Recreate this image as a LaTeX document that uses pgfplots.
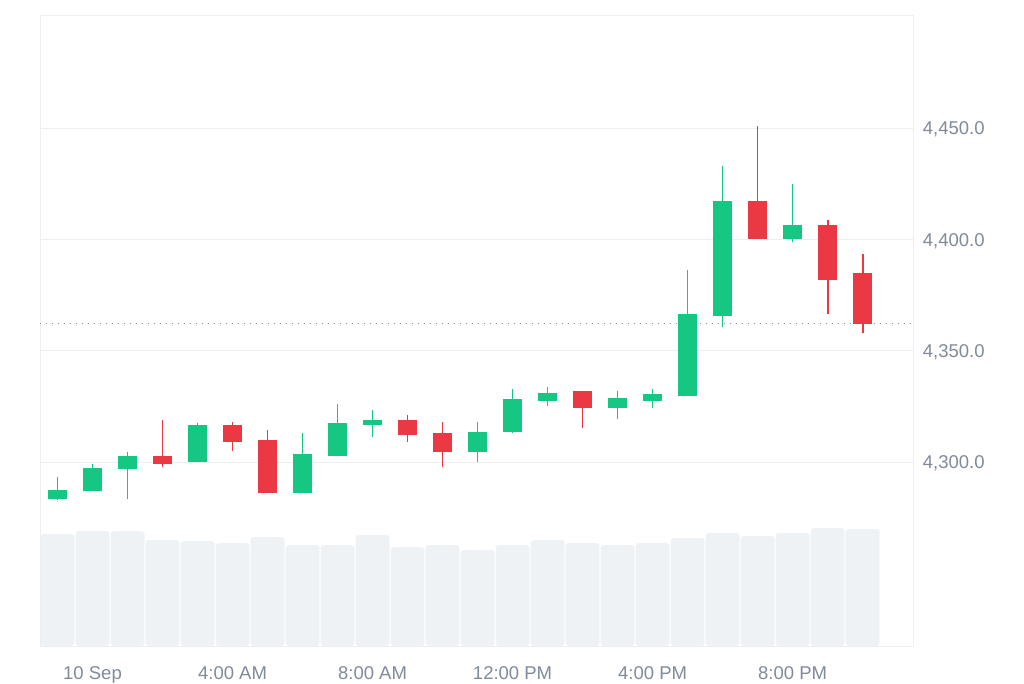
\documentclass[border=0pt]{standalone}
\usepackage{fontspec}
\setmainfont{Liberation Sans}
\usepackage{pgfplots}
\usepackage{pgfplotstable}
\pgfplotsset{compat=1.18}
\definecolor{upc}{HTML}{16C784}
\definecolor{dnc}{HTML}{EA3943}
\definecolor{gridc}{HTML}{EBEEF2}
\definecolor{volc}{HTML}{EFF2F5}
\definecolor{txtc}{HTML}{808A9D}
\definecolor{dotc}{HTML}{8C94A3}

\pgfplotstableread{
x open high low close
0 4283.4 4293.4 4283.0 4287.4
1 4287.0 4299.0 4287.0 4297.4
2 4296.9 4304.4 4283.2 4302.7
4 4299.9 4317.4 4299.9 4316.6
7 4285.9 4312.9 4285.9 4303.6
8 4302.8 4325.9 4302.8 4317.4
9 4316.7 4323.3 4311.4 4318.9
12 4304.5 4318.1 4299.9 4313.5
13 4313.5 4332.8 4312.9 4328.2
14 4327.4 4333.5 4325.1 4331.1
16 4324.4 4331.9 4319.2 4328.9
17 4327.4 4332.8 4324.4 4330.4
18 4329.8 4386.2 4329.8 4366.5
19 4365.7 4433.0 4360.5 4417.2
21 4400.3 4424.8 4398.7 4406.3
}\upTable

\pgfplotstableread{
x open high low close
3 4302.7 4318.9 4297.6 4299.1
5 4316.6 4318.1 4305.1 4309.1
6 4309.7 4314.4 4285.9 4285.9
10 4318.9 4321.1 4309.1 4312.1
11 4312.9 4318.1 4297.6 4304.5
15 4331.9 4331.9 4315.1 4324.4
20 4417.2 4450.9 4400.3 4400.3
22 4406.3 4408.7 4366.5 4381.9
23 4384.7 4393.3 4358.1 4362.0
}\downTable

\pgfplotstableread{
x vol
0 112
1 115
2 115
3 106
4 105
5 103
6 109
7 101
8 101
9 111
10 99
11 101
12 96
13 101
14 106
15 103
16 101
17 103
18 108
19 113
20 110
21 113
22 118
23 117
}\volTable

\pgfplotsset{
  candle/.style 2 args={only marks, mark=*, mark size=0pt,
    mark options={draw=none, fill=none}, forget plot,
    error bars/.cd, y dir=plus, y explicit, error mark=none,
    error bar style={line width=#1, color=#2}},
}

\begin{document}
\begin{tikzpicture}
\path[use as bounding box] (0,0) rectangle (1024pt,683pt);
% volume
\begin{axis}[at={(40pt,37pt)}, anchor=south west, scale only axis,
  width=873pt, height=630pt, xmin=-0.5, xmax=24.44, ymin=0, ymax=630,
  axis lines=none]
\addplot[ybar, bar width=34pt, bar shift=0pt, fill=volc, draw=none, rounded corners=3pt]
  table[x=x, y=vol] {\volTable};
\end{axis}
% price
\begin{axis}[at={(40pt,37pt)}, anchor=south west, scale only axis,
  width=873pt, height=630pt, xmin=-0.5, xmax=24.44, ymin=4217.4, ymax=4500.3,
  axis line style={gridc, line width=1pt},
  ymajorgrids, major grid style={gridc, line width=1pt},
  ytick={4300,4350,4400,4450},
  yticklabels={{4,300.0},{4,350.0},{4,400.0},{4,450.0}},
  yticklabel pos=right,
  xtick={1,5,9,13,17,21},
  xticklabels={10 Sep, 4:00 AM, 8:00 AM, 12:00 PM, 4:00 PM, 8:00 PM},
  major tick length=0pt, tick style={draw=none},
  ticklabel style={font=\fontsize{18.5}{22}\selectfont, text=txtc, inner sep=0pt},
  yticklabel style={anchor=base west, xshift=9.7pt, yshift=-6.7pt},
  xticklabel style={anchor=base, yshift=-33.3pt},
  clip=false]
\addplot[dotc, line width=1.3pt, dash pattern=on 1.3pt off 4.7pt, forget plot]
  coordinates {(-0.5,4362.3) (24.44,4362.3)};
% wicks
\addplot[candle={1.8pt}{upc}]
  table[x=x, y=low, y error expr={\thisrow{high}-\thisrow{low}}] {\upTable};
\addplot[candle={1.8pt}{dnc}]
  table[x=x, y=low, y error expr={\thisrow{high}-\thisrow{low}}] {\downTable};
% bodies
\addplot[candle={19pt}{upc}]
  table[x=x, y=open, y error expr={\thisrow{close}-\thisrow{open}}] {\upTable};
\addplot[candle={19pt}{dnc}]
  table[x=x, y=close, y error expr={\thisrow{open}-\thisrow{close}}] {\downTable};
\end{axis}
\end{tikzpicture}
\end{document}
